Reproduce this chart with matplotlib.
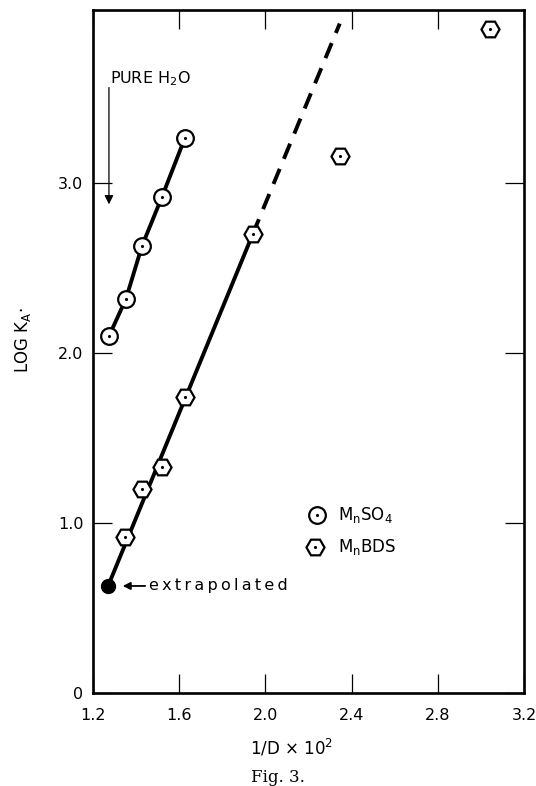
import matplotlib
matplotlib.use("Agg")
import matplotlib.pyplot as plt

# ---- data ----
so4_x = [1.274, 1.353, 1.427, 1.52, 1.626]
so4_y = [2.10, 2.32, 2.63, 2.92, 3.265]
bds_x = [1.348, 1.427, 1.52, 1.626, 1.941, 2.345, 3.04]
bds_y = [0.92, 1.20, 1.33, 1.74, 2.70, 3.16, 3.91]
extrap_x = [1.27]
extrap_y = [0.63]
fit_x = [1.27, 1.941]
fit_y = [0.63, 2.70]
dash_x = [1.941, 2.345]
dash_y = [2.70, 3.94]
xticks = [1.2, 1.6, 2.0, 2.4, 2.8, 3.2]
xticklabels = ["1.2", "1.6", "2.0", "2.4", "2.8", "3.2"]
yticks = [0, 1, 2, 3]
yticklabels = ["0", "1.0", "2.0", "3.0"]
pure_water_x = 1.274

plt.rcParams['font.family'] = ['DejaVu Sans']
plt.rcParams['mathtext.fontset'] = 'dejavusans'

fig = plt.figure(figsize=(5.36, 7.86), dpi=100)
W, H = 536, 786
ax = fig.add_axes([93 / W, 1 - 693 / H, (524 - 93) / W, (693 - 10) / H])
ax.set_xlim(1.2, 3.2)
ax.set_ylim(0, 4.02)

for s in ax.spines.values():
    s.set_linewidth(1.9)

ax.set_xticks(xticks)
ax.set_xticklabels(xticklabels)
ax.set_yticks(yticks)
ax.set_yticklabels(yticklabels)
ax.tick_params(axis='both', direction='in', length=14, width=0.9,
               top=True, right=True, labelsize=11.5)
ax.tick_params(axis='x', pad=11)
ax.tick_params(axis='y', pad=7)

lw = 2.8
# MnSO4 line
ax.plot(so4_x, so4_y, color='black', lw=lw, zorder=2, solid_capstyle='butt')
# MnBDS solid and dashed lines
ax.plot(fit_x, fit_y, color='black', lw=lw, zorder=2, solid_capstyle='butt')
ax.plot(dash_x, dash_y, color='black', lw=lw, zorder=2, dashes=(4.2, 2.8))

# markers
mew = 1.6
ax.plot(so4_x, so4_y, 'o', ms=12, mfc='white', mec='black', mew=mew, zorder=3)
ax.plot(so4_x, so4_y, '.', ms=2.5, color='black', zorder=4)
ax.plot(bds_x, bds_y, 'H', ms=13, mfc='white', mec='black', mew=mew, zorder=3)
ax.plot(bds_x, bds_y, '.', ms=2.5, color='black', zorder=4)
ax.plot(extrap_x, extrap_y, 'o', ms=10, color='black', zorder=3)

# extrapolated annotation
ax.annotate('', xy=(1.325, extrap_y[0]), xytext=(1.455, extrap_y[0]),
            arrowprops=dict(arrowstyle='-|>', color='black', lw=1.3,
                            mutation_scale=11))
ax.text(1.462, extrap_y[0], "e\u2009x\u2009t\u2009r\u2009a\u2009p\u2009o\u2009l\u2009a\u2009t\u2009e\u2009d",
        fontsize=11.5, va='center', ha='left')

# pure water arrow
ax.annotate('', xy=(pure_water_x, 2.86), xytext=(pure_water_x, 3.58),
            arrowprops=dict(arrowstyle='-|>', color='black', lw=0.9,
                            mutation_scale=13))
ax.text(1.279, 3.59, "PURE H$_2$O", fontsize=11.5, va='baseline', ha='left')

# legend (manual)
ax.plot([0.52], [0.2606], 'o', ms=12, mfc='white', mec='black', mew=mew,
        transform=ax.transAxes, clip_on=False)
ax.plot([0.52], [0.2606], '.', ms=2.5, color='black', transform=ax.transAxes)
ax.plot([0.515], [0.2138], 'H', ms=13, mfc='white', mec='black', mew=mew,
        transform=ax.transAxes, clip_on=False)
ax.plot([0.515], [0.2138], '.', ms=2.5, color='black', transform=ax.transAxes)
ax.text(0.568, 0.2606, "M$_\\mathrm{n}$SO$_4$", fontsize=12, va='center',
        ha='left', transform=ax.transAxes)
ax.text(0.568, 0.2138, "M$_\\mathrm{n}$BDS", fontsize=12, va='center',
        ha='left', transform=ax.transAxes)

# axis labels
fig.text(292 / W, 1 - 755 / H, "1/D × 10$^2$", fontsize=12, ha='center',
         va='baseline')
fig.text(23 / W, 1 - 340 / H, "LOG K$_\\mathrm{A}$·", fontsize=12,
         rotation=90, ha='center', va='center')
fig.text(278 / W, 1 - 778 / H, "Fig. 3.", fontsize=12, ha='center',
         va='center', family='DejaVu Serif')

fig.savefig("out.png", dpi=100)
